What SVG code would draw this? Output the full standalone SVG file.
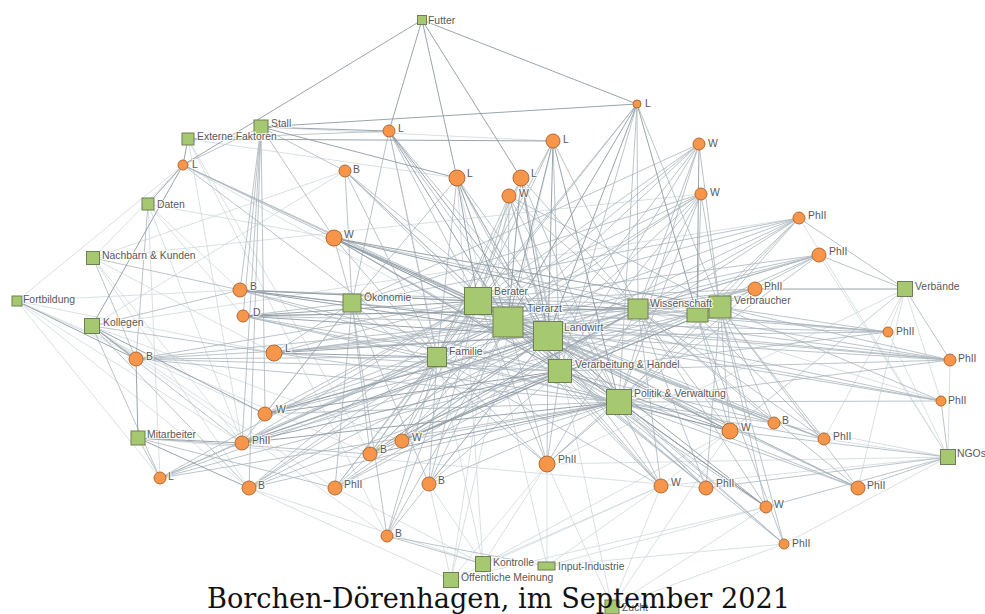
<svg xmlns="http://www.w3.org/2000/svg" width="985" height="614" viewBox="0 0 985 614">
<style>
.e1{fill:none;stroke:#8e9aa2;stroke-width:.9}
.e2{fill:none;stroke:#aab5bc;stroke-width:.8}
.e3{fill:none;stroke:#cfd8dc;stroke-width:.8}
.sq{fill:#a6c870;stroke:#6f7f55;stroke-width:1}
.ci{fill:#f7964a;stroke:#b06a34;stroke-width:1}
.lb{font-family:"Liberation Sans",Arial,sans-serif;font-size:10.4px;fill:#595959;stroke:#fff;stroke-width:2.2px;stroke-opacity:.8;paint-order:stroke}
.tt{font-family:"DejaVu Serif","Liberation Serif",serif;font-size:27.5px;fill:#111}
</style>
<rect width="985" height="614" fill="#fff"/>
<g id="connectors">
<path class="e3" d="M389 131L483 564M553 141L451 580M183 165L619 402M345 171L92 326M457 178L547 566M457 178L483 564M521 178L612 607M509 196L451 580M701 194L93 258M799 218L92 326M799 218L948 457M819 255L948 457M242 443L17 301M160 478L17 301M249 488L451 580M249 488L483 564M249 488L17 301M335 488L483 564M429 484L451 580M429 484L483 564M547 464L547 566M547 464L451 580M547 464L612 607M387 536L92 326M387 536L188 139M774 423L948 457M824 439L905 289M824 439L948 457M661 486L483 564M661 486L547 566M661 486L451 580M661 486L612 607M706 488L138 438M766 507L547 566M766 507L451 580M766 507L612 607M858 488L905 289M784 544L948 457M784 544L547 566M888 332L905 289M888 332L948 457M950 360L948 457M941 401L905 289M941 401L638 309M17 301L183 165M17 301L240 290M17 301L274 353M17 301L265 414M17 301L370 454M93 258L183 165M93 258L242 443M93 258L274 353M93 258L249 488M93 258L345 171M92 326L335 488M92 326L402 441M148 204L240 290M148 204L242 443M148 204L243 316M148 204L334 238M148 204L160 478M188 139L242 443M188 139L370 454M188 139L457 178M261 127L553 141M905 289L730 431M905 289L661 486M905 289L547 464M948 457L547 464M948 457L661 486M483 564L547 464M483 564L730 431M612 607L730 431M612 607L784 544"/>
<path class="e2" d="M637 104L478 301M637 104L560 371M637 104L619 402M637 104L638 309M637 104L720 307M637 104L437 357M389 131L188 139M389 131L478 301M389 131L437 357M389 131L352 303M389 131L560 371M389 131L619 402M553 141L478 301M553 141L560 371M553 141L638 309M553 141L437 357M183 165L478 301M183 165L508 322M183 165L548 336M183 165L261 127M183 165L437 357M345 171L261 127M345 171L478 301M345 171L508 322M345 171L548 336M345 171L352 303M345 171L437 357M345 171L560 371M457 178L560 371M457 178L619 402M457 178L437 357M457 178L352 303M521 178L478 301M521 178L560 371M521 178L619 402M521 178L638 309M521 178L437 357M509 196L478 301M509 196L508 322M509 196L548 336M509 196L560 371M509 196L619 402M509 196L638 309M509 196L720 307M509 196L437 357M699 144L478 301M699 144L508 322M699 144L548 336M699 144L560 371M699 144L638 309M699 144L720 307M699 144L619 402M699 144L352 303M699 144L437 357M701 194L478 301M701 194L508 322M701 194L548 336M701 194L560 371M701 194L619 402M701 194L638 309M701 194L720 307M701 194L697 315M701 194L437 357M701 194L352 303M799 218L478 301M799 218L508 322M799 218L548 336M799 218L560 371M799 218L619 402M799 218L638 309M799 218L720 307M799 218L905 289M799 218L697 315M799 218L352 303M819 255L478 301M819 255L508 322M819 255L548 336M819 255L560 371M819 255L619 402M819 255L638 309M819 255L720 307M819 255L905 289M819 255L437 357M755 289L478 301M755 289L508 322M755 289L548 336M755 289L638 309M755 289L560 371M755 289L619 402M334 238L619 402M334 238L352 303M334 238L437 357M334 238L261 127M334 238L697 315M240 290L478 301M240 290L560 371M240 290L619 402M240 290L720 307M240 290L352 303M240 290L261 127M240 290L93 258M240 290L92 326M243 316L508 322M243 316L560 371M243 316L619 402M243 316L638 309M243 316L352 303M243 316L437 357M243 316L261 127M274 353L478 301M274 353L508 322M274 353L560 371M274 353L619 402M274 353L352 303M274 353L92 326M274 353L638 309M274 353L720 307M136 359L93 258M136 359L478 301M136 359L508 322M136 359L548 336M136 359L560 371M136 359L619 402M136 359L437 357M136 359L148 204M265 414L478 301M265 414L508 322M265 414L619 402M265 414L638 309M265 414L720 307M265 414L437 357M265 414L352 303M242 443L478 301M242 443L508 322M242 443L638 309M242 443L720 307M242 443L437 357M242 443L92 326M242 443L261 127M242 443L352 303M160 478L138 438M160 478L92 326M160 478L478 301M160 478L508 322M160 478L548 336M160 478L619 402M160 478L560 371M160 478L437 357M249 488L478 301M249 488L508 322M249 488L548 336M249 488L560 371M249 488L619 402M249 488L437 357M249 488L92 326M335 488L478 301M335 488L508 322M335 488L548 336M335 488L560 371M335 488L619 402M335 488L437 357M335 488L352 303M335 488L638 309M335 488L138 438M370 454L478 301M370 454L508 322M370 454L560 371M370 454L437 357M370 454L352 303M370 454L720 307M370 454L138 438M402 441L478 301M402 441L508 322M402 441L548 336M402 441L619 402M402 441L638 309M402 441L437 357M429 484L478 301M429 484L508 322M429 484L548 336M429 484L560 371M429 484L619 402M429 484L352 303M429 484L437 357M547 464L478 301M547 464L508 322M547 464L548 336M547 464L560 371M547 464L619 402M547 464L638 309M547 464L720 307M547 464L437 357M547 464L352 303M387 536L483 564M387 536L547 566M387 536L478 301M387 536L508 322M387 536L548 336M387 536L437 357M387 536L352 303M730 431L478 301M730 431L548 336M730 431L638 309M730 431L720 307M730 431L697 315M730 431L437 357M730 431L948 457M774 423L478 301M774 423L508 322M774 423L548 336M774 423L619 402M774 423L560 371M774 423L638 309M774 423L720 307M824 439L478 301M824 439L508 322M824 439L548 336M824 439L619 402M824 439L638 309M824 439L720 307M824 439L697 315M661 486L478 301M661 486L508 322M661 486L548 336M661 486L560 371M661 486L619 402M661 486L638 309M661 486L437 357M706 488L478 301M706 488L508 322M706 488L548 336M706 488L560 371M706 488L619 402M706 488L638 309M706 488L720 307M706 488L948 457M766 507L478 301M766 507L560 371M766 507L619 402M766 507L638 309M766 507L720 307M766 507L948 457M858 488L478 301M858 488L508 322M858 488L548 336M858 488L560 371M858 488L619 402M858 488L638 309M858 488L720 307M858 488L948 457M784 544L619 402M784 544L720 307M784 544L697 315M784 544L548 336M784 544L508 322M888 332L478 301M888 332L508 322M888 332L548 336M888 332L560 371M888 332L638 309M888 332L720 307M888 332L697 315M950 360L478 301M950 360L508 322M950 360L548 336M950 360L560 371M950 360L619 402M950 360L638 309M950 360L720 307M950 360L905 289M950 360L352 303M941 401L948 457M941 401L478 301M941 401L508 322M941 401L548 336M941 401L619 402M941 401L720 307M261 127L265 414M261 127L249 488"/>
<path class="e1" d="M422 20L389 131M422 20L457 178M422 20L521 178M422 20L637 104M422 20L183 165M637 104L261 127M637 104L697 315M637 104L508 322M637 104L548 336M389 131L261 127M389 131L508 322M389 131L548 336M188 139L553 141M553 141L508 322M553 141L548 336M553 141L619 402M183 165L188 139M183 165L148 204M183 165L92 326M457 178L261 127M457 178L478 301M457 178L508 322M457 178L548 336M521 178L508 322M521 178L548 336M699 144L697 315M755 289L905 289M334 238L478 301M334 238L508 322M334 238L548 336M334 238L560 371M334 238L638 309M334 238L720 307M240 290L508 322M240 290L548 336M240 290L638 309M243 316L478 301M243 316L548 336M243 316L720 307M274 353L437 357M274 353L548 336M136 359L92 326M136 359L17 301M136 359L138 438M265 414L548 336M265 414L560 371M265 414L92 326M242 443L138 438M242 443L548 336M242 443L619 402M242 443L560 371M249 488L138 438M370 454L548 336M370 454L619 402M370 454L638 309M402 441L560 371M402 441L720 307M730 431L508 322M730 431L560 371M730 431L619 402M766 507L548 336M766 507L508 322"/>
</g>
<g id="n-futter"><rect class="sq" x="417.5" y="15.5" width="9" height="9"/><text class="lb" x="428" y="24">Futter</text></g>
<g id="n-stall"><rect class="sq" x="254" y="120" width="14" height="14"/><text class="lb" x="271" y="127">Stall</text></g>
<g id="n-externe"><rect class="sq" x="182" y="133" width="12" height="12"/><text class="lb" x="197" y="140">Externe Faktoren</text></g>
<g id="n-daten"><rect class="sq" x="142" y="198" width="12" height="12"/><text class="lb" x="157" y="208">Daten</text></g>
<g id="n-nachbarn"><rect class="sq" x="86.5" y="251.5" width="13" height="13"/><text class="lb" x="102" y="259">Nachbarn &amp; Kunden</text></g>
<g id="n-fortbildung"><rect class="sq" x="12" y="296" width="10" height="10"/><text class="lb" x="23" y="303">Fortbildung</text></g>
<g id="n-kollegen"><rect class="sq" x="84.5" y="318.5" width="15" height="15"/><text class="lb" x="103" y="326">Kollegen</text></g>
<g id="n-mitarbeiter"><rect class="sq" x="131" y="431" width="14" height="14"/><text class="lb" x="147" y="438">Mitarbeiter</text></g>
<g id="n-oekonomie"><rect class="sq" x="343" y="294" width="18" height="18"/><text class="lb" x="364" y="301">Ökonomie</text></g>
<g id="n-berater"><rect class="sq" x="464.5" y="287.5" width="27" height="27"/><text class="lb" x="494" y="295">Berater</text></g>
<g id="n-tierarzt"><rect class="sq" x="493" y="307" width="30" height="30"/><text class="lb" x="527" y="312">Tierarzt</text></g>
<g id="n-landwirt"><rect class="sq" x="533.5" y="321.5" width="29" height="29"/><text class="lb" x="564" y="331">Landwirt</text></g>
<g id="n-familie"><rect class="sq" x="427.5" y="347.5" width="19" height="19"/><text class="lb" x="449" y="355">Familie</text></g>
<g id="n-verarbeitung"><rect class="sq" x="548.5" y="359.5" width="23" height="23"/><text class="lb" x="575" y="368">Verarbeitung &amp; Handel</text></g>
<g id="n-politik"><rect class="sq" x="606.5" y="389.5" width="25" height="25"/><text class="lb" x="634" y="397">Politik &amp; Verwaltung</text></g>
<g id="n-hidden"><rect class="sq" x="687" y="308" width="21" height="14"/></g>
<g id="n-ph13"><circle class="ci" cx="755" cy="289" r="7"/><text class="lb" x="764" y="290">PhII</text></g>
<g id="n-verbraucher"><rect class="sq" x="709" y="296" width="22" height="22"/><text class="lb" x="734" y="304">Verbraucher</text></g>
<g id="n-wissenschaft"><rect class="sq" x="628" y="299" width="20" height="20"/><text class="lb" x="650" y="307">Wissenschaft</text></g>
<g id="n-verbaende"><rect class="sq" x="897.5" y="281.5" width="15" height="15"/><text class="lb" x="915" y="290">Verbände</text></g>
<g id="n-ngos"><rect class="sq" x="940.5" y="449.5" width="15" height="15"/><text class="lb" x="957" y="457">NGOs</text></g>
<g id="n-input"><rect class="sq" x="538" y="562" width="17" height="8"/><text class="lb" x="558" y="570">Input-Industrie</text></g>
<g id="n-kontrolle"><rect class="sq" x="475.5" y="556.5" width="15" height="15"/><text class="lb" x="493" y="566">Kontrolle</text></g>
<g id="n-oeffentlich"><rect class="sq" x="443.5" y="572.5" width="15" height="15"/><text class="lb" x="461" y="581">Öffentliche Meinung</text></g>
<g id="n-zucht"><rect class="sq" x="605" y="600" width="14" height="14"/><text class="lb" x="622" y="611">Zucht</text></g>
<g id="n-c1"><circle class="ci" cx="637" cy="104" r="4"/><text class="lb" x="645" y="107">L</text></g>
<g id="n-c2"><circle class="ci" cx="389" cy="131" r="6"/><text class="lb" x="398" y="132">L</text></g>
<g id="n-c3"><circle class="ci" cx="553" cy="141" r="7"/><text class="lb" x="563" y="143">L</text></g>
<g id="n-c4"><circle class="ci" cx="183" cy="165" r="5"/><text class="lb" x="192" y="168">L</text></g>
<g id="n-c5"><circle class="ci" cx="345" cy="171" r="6"/><text class="lb" x="353" y="173">B</text></g>
<g id="n-c6"><circle class="ci" cx="457" cy="178" r="8"/><text class="lb" x="467" y="177">L</text></g>
<g id="n-c7"><circle class="ci" cx="521" cy="178" r="8"/><text class="lb" x="531" y="177">L</text></g>
<g id="n-c8"><circle class="ci" cx="509" cy="196" r="7"/><text class="lb" x="519" y="197">W</text></g>
<g id="n-c9"><circle class="ci" cx="699" cy="144" r="6"/><text class="lb" x="708" y="147">W</text></g>
<g id="n-c10"><circle class="ci" cx="701" cy="194" r="6"/><text class="lb" x="710" y="196">W</text></g>
<g id="n-c11"><circle class="ci" cx="799" cy="218" r="6"/><text class="lb" x="808" y="219">PhII</text></g>
<g id="n-c12"><circle class="ci" cx="819" cy="255" r="7"/><text class="lb" x="829" y="255">PhII</text></g>
<g id="n-c14"><circle class="ci" cx="334" cy="238" r="8"/><text class="lb" x="344" y="238">W</text></g>
<g id="n-c15"><circle class="ci" cx="240" cy="290" r="7"/><text class="lb" x="250" y="290">B</text></g>
<g id="n-c16"><circle class="ci" cx="243" cy="316" r="6"/><text class="lb" x="253" y="316">D</text></g>
<g id="n-c17"><circle class="ci" cx="274" cy="353" r="8"/><text class="lb" x="285" y="352">L</text></g>
<g id="n-c18"><circle class="ci" cx="136" cy="359" r="7"/><text class="lb" x="146" y="360">B</text></g>
<g id="n-c19"><circle class="ci" cx="265" cy="414" r="7"/><text class="lb" x="276" y="413">W</text></g>
<g id="n-c20"><circle class="ci" cx="242" cy="443" r="7"/><text class="lb" x="252" y="444">PhII</text></g>
<g id="n-c21"><circle class="ci" cx="160" cy="478" r="6"/><text class="lb" x="168" y="480">L</text></g>
<g id="n-c22"><circle class="ci" cx="249" cy="488" r="7"/><text class="lb" x="258" y="489">B</text></g>
<g id="n-c23"><circle class="ci" cx="335" cy="488" r="7"/><text class="lb" x="344" y="488">PhII</text></g>
<g id="n-c24"><circle class="ci" cx="370" cy="454" r="7"/><text class="lb" x="380" y="453">B</text></g>
<g id="n-c25"><circle class="ci" cx="402" cy="441" r="7"/><text class="lb" x="412" y="441">W</text></g>
<g id="n-c26"><circle class="ci" cx="429" cy="484" r="7"/><text class="lb" x="438" y="484">B</text></g>
<g id="n-c27"><circle class="ci" cx="547" cy="464" r="8"/><text class="lb" x="558" y="463">PhII</text></g>
<g id="n-c28"><circle class="ci" cx="387" cy="536" r="6"/><text class="lb" x="395" y="537">B</text></g>
<g id="n-c29"><circle class="ci" cx="730" cy="431" r="8"/><text class="lb" x="741" y="431">W</text></g>
<g id="n-c30"><circle class="ci" cx="774" cy="423" r="6"/><text class="lb" x="782" y="424">B</text></g>
<g id="n-c31"><circle class="ci" cx="824" cy="439" r="6"/><text class="lb" x="833" y="440">PhII</text></g>
<g id="n-c32"><circle class="ci" cx="661" cy="486" r="7"/><text class="lb" x="671" y="486">W</text></g>
<g id="n-c33"><circle class="ci" cx="706" cy="488" r="7"/><text class="lb" x="716" y="487">PhII</text></g>
<g id="n-c34"><circle class="ci" cx="766" cy="507" r="6"/><text class="lb" x="774" y="508">W</text></g>
<g id="n-c35"><circle class="ci" cx="858" cy="488" r="7"/><text class="lb" x="867" y="489">PhII</text></g>
<g id="n-c36"><circle class="ci" cx="784" cy="544" r="5"/><text class="lb" x="792" y="547">PhII</text></g>
<g id="n-c37"><circle class="ci" cx="888" cy="332" r="5"/><text class="lb" x="896" y="335">PhII</text></g>
<g id="n-c38"><circle class="ci" cx="950" cy="360" r="6"/><text class="lb" x="958" y="362">PhII</text></g>
<g id="n-c39"><circle class="ci" cx="941" cy="401" r="5"/><text class="lb" x="948" y="404">PhII</text></g>
<text class="tt" x="207" y="608" textLength="583" lengthAdjust="spacingAndGlyphs">Borchen-Dörenhagen, im September 2021</text>
</svg>
